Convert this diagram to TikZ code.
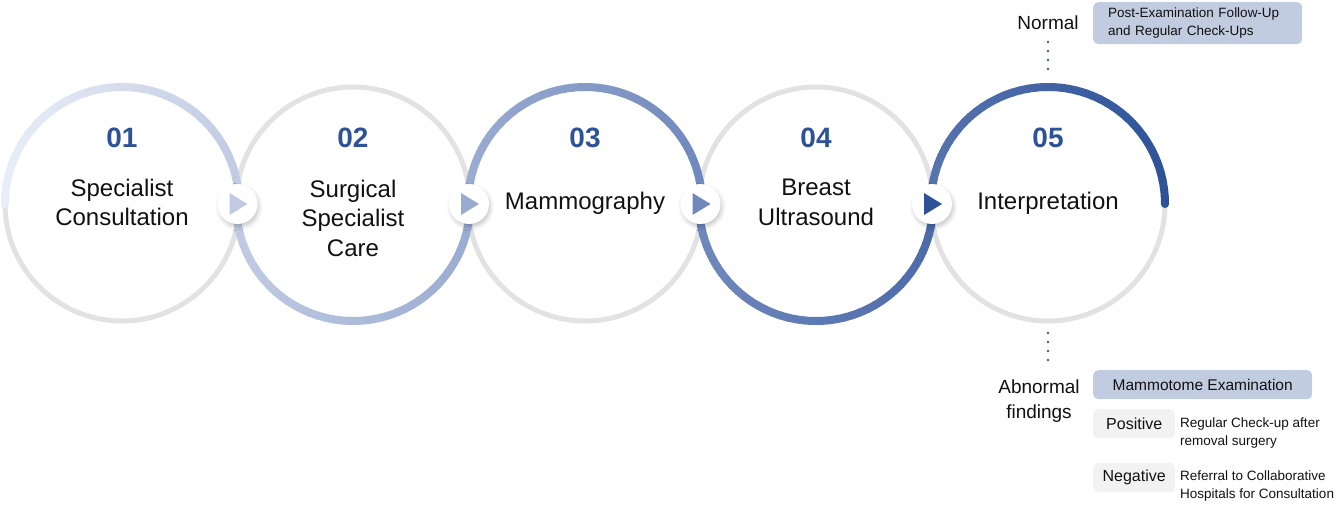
\documentclass[tikz,border=0pt]{standalone}
\usepackage{fontspec}
\setmainfont{Liberation Sans}
\usetikzlibrary{shadows.blur,calc}
\definecolor{grayring}{HTML}{E2E2E2}
\definecolor{numblue}{HTML}{2D5298}
\definecolor{ca}{HTML}{E8EDF7}
\definecolor{cb}{HTML}{C0CBE3}
\definecolor{cc}{HTML}{9AABD1}
\definecolor{cd}{HTML}{6F88BC}
\definecolor{ce}{HTML}{4C6AAA}
\definecolor{cf}{HTML}{2D5298}
\definecolor{cg}{HTML}{5673AF}
\definecolor{boxblue}{HTML}{C2CCE1}
\definecolor{boxgray}{HTML}{F2F2F2}
\definecolor{txt}{HTML}{111111}
\definecolor{dotc}{HTML}{3A5A9C}
\newcommand\gradArc[5]{%
  \foreach \i in {0,...,44}{%
    \pgfmathsetmacro\sa{#2+(#3)*4*\i}%
    \pgfmathtruncatemacro\pc{100*(1+cos(\sa))/2}%
    \draw[line width=8pt, draw=#5!\pc!#4] (#1.center) ++(\sa:117) arc[start angle=\sa, delta angle=(#3)*4.5, radius=117];
  }%
}
\tikzset{
  ring/.style={circle, minimum size=234pt, inner sep=0pt, outer sep=0pt, draw=grayring, line width=5pt},
  arrownode/.style={circle, fill=white, minimum size=40pt, inner sep=0pt,
    blur shadow={shadow xshift=1.5pt, shadow yshift=-3pt, shadow blur radius=4pt, shadow opacity=22}},
  num/.style={font=\fontsize{28}{30}\selectfont\bfseries, text=numblue},
  lbl/.style={font=\fontsize{24}{29.5}\selectfont, text=txt, align=center},
  side/.style={font=\fontsize{19}{24.5}\selectfont, text=txt, align=center},
  dotline/.style={draw=dotc, line width=2.6pt, line cap=round, dash pattern=on 0pt off 9pt},
  bluebox/.style={fill=boxblue, rounded corners=5pt, inner sep=0pt, anchor=north west},
  graybox/.style={fill=boxgray, rounded corners=5pt, inner sep=0pt, anchor=north west,
    minimum width=82pt, minimum height=29pt, font=\fontsize{16}{20}\selectfont, text=txt},
  small/.style={font=\fontsize{13.5}{18}\selectfont, text=txt, align=left, anchor=west, inner sep=0pt},
}
\begin{document}
\begin{tikzpicture}[x=1pt,y=1pt]
\useasboundingbox (0,0) rectangle (1338,-504);
% rings
\node[ring] (c1) at (122,-204) {};
\node[ring] (c2) at (353,-204) {};
\node[ring] (c3) at (585,-204) {};
\node[ring] (c4) at (816,-204) {};
\node[ring] (c5) at (1048,-204) {};
% coloured halves
\gradArc{c1}{180}{-1}{ca}{cb}
\gradArc{c2}{180}{1}{cb}{cc}
\gradArc{c3}{180}{-1}{cc}{cd}
\gradArc{c4}{180}{1}{cd}{ce}
\gradArc{c5}{180}{-1}{cg}{cf}
\fill[ca] (c1.center) ++(180:117) circle (4pt);
\fill[cf] (c5.center) ++(0:117) circle (4pt);
% arrow nodes
\node[arrownode] (a1) at ($(c1)!0.5!(c2)$) {};
\node[arrownode] (a2) at ($(c2)!0.5!(c3)$) {};
\node[arrownode] (a3) at ($(c3)!0.5!(c4)$) {};
\node[arrownode] (a4) at ($(c4)!0.5!(c5)$) {};
\fill[cb] (a1.center) ++(-8,11) -- ++(18,-11) -- ++(-18,-11) -- cycle;
\fill[cc] (a2.center) ++(-8,11) -- ++(18,-11) -- ++(-18,-11) -- cycle;
\fill[cd] (a3.center) ++(-8,11) -- ++(18,-11) -- ++(-18,-11) -- cycle;
\fill[cf] (a4.center) ++(-8,11) -- ++(18,-11) -- ++(-18,-11) -- cycle;
% numbers and labels
\node[num] (n1) at (122,-138) {01};
\node[num] (n2) at (353,-138) {02};
\node[num] (n3) at (585,-138) {03};
\node[num] (n4) at (816,-138) {04};
\node[num] (n5) at (1048,-138) {05};
\node[lbl] (t1) at (122,-202.5) {Specialist\\Consultation};
\node[lbl] (t2) at (353,-218) {Surgical\\Specialist\\Care};
\node[lbl] (t3) at (585,-203) {Mammography};
\node[lbl] (t4) at (816,-202.5) {Breast\\Ultrasound};
\node[lbl] (t5) at (1048,-203) {Interpretation};
% normal branch
\node[side] (normal) at (1048,-22.5) {Normal};
\draw[dotline] (c5.north) ++(0,18) -- ++(0,27);
\node[bluebox, minimum width=209pt, minimum height=42pt, inner xsep=15pt, text width=179pt, align=left,
  font=\fontsize{13.5}{18}\selectfont, text=txt] (post) at (1093,-2)
  {Post-Examination Follow-Up\\and Regular Check-Ups};
% abnormal branch
\draw[dotline] (c5.south) ++(0,-12) -- ++(0,-27);
\node[side] (abn) at (1039,-401) {Abnormal\\findings};
\node[bluebox, minimum width=219pt, minimum height=29pt, font=\fontsize{15.5}{20}\selectfont, text=txt]
  (mammo) at (1093,-370) {Mammotome Examination};
\node[graybox] (pos) at (1093,-409) {Positive};
\node[graybox] (neg) at (1093,-463) {Negative};
\node[small] (postxt) at (1180,-433) {Regular Check-up after\\removal surgery};
\node[small] (negtxt) at (1180,-486) {Referral to Collaborative\\Hospitals for Consultation};
\end{tikzpicture}
\end{document}
